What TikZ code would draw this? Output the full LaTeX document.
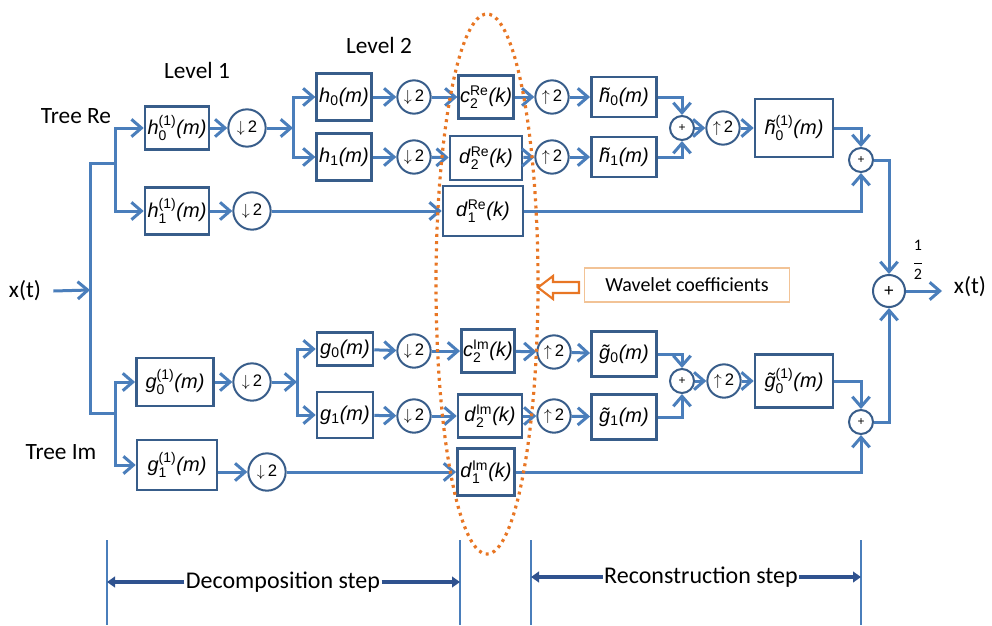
\documentclass[tikz,border=0pt]{standalone}
\usepackage{amsmath}
\usepackage{fontspec}
\setmainfont{Carlito}
\newfontfamily\boxfont{Liberation Sans}
\usepackage{tikz}
\usetikzlibrary{arrows.meta}
\definecolor{lineblue}{RGB}{74,126,187}
\definecolor{edgeblue}{RGB}{56,93,138}
\definecolor{darkblue}{RGB}{47,82,143}
\definecolor{dotorange}{RGB}{232,118,36}
\definecolor{tanedge}{RGB}{242,195,150}
\newcommand{\fs}[3]{\textit{#1}$_{\text{#2}}$\textit{(#3)}}
\newcommand{\fss}[4]{\textit{#1}$^{\text{#3}}_{\text{#2}}$\textit{(#4)}}
\newcommand{\dwn}{$\downarrow$\,2}
\newcommand{\upw}{$\uparrow$\,2}

\begin{document}
\begin{tikzpicture}[x=0.75pt,y=-0.75pt]
                      \tikzstyle{blk}=[draw=edgeblue,line width=1.9pt,fill=white,inner sep=0pt,font=\boxfont\fontsize{15}{17}\selectfont]
                      \tikzstyle{rate}=[circle,draw=edgeblue,line width=1.5pt,fill=white,inner sep=0pt,minimum size=25pt,font=\boxfont\fontsize{12.5}{14}\selectfont]
                      \tikzstyle{adder}=[circle,draw=edgeblue,line width=1.5pt,fill=white,inner sep=0pt,minimum size=18pt,font=\boxfont\fontsize{9}{10}\selectfont]
                      \tikzstyle{conn}=[draw=lineblue,line width=2.25pt,-{Straight Barb[length=7.5pt,width=13pt]}]
                      \tikzstyle{wire}=[draw=lineblue,line width=2.25pt]
                      \tikzstyle{lbl}=[inner sep=0pt,font=\fontsize{17.5}{20}\selectfont]
                      \tikzstyle{sepline}=[draw=lineblue,line width=0.8pt]
                      \tikzstyle{stepline}=[draw=darkblue,line width=3pt,-{Triangle[length=6pt,width=8pt]}]
                      \useasboundingbox (0,0) rectangle (992,625);
                      \node[lbl] (lev1) at (197,70) {Level 1};
                      \node[lbl] (lev2) at (379,45) {Level 2};
                      \node[lbl] (treeRe) at (76,116) {Tree Re};
                      \node[lbl] (treeIm) at (61,452) {Tree Im};
                      \node[lbl] (xin) at (25,291) {x(t)};
                      \node[lbl] (xout) at (970,287) {x(t)};
                      \node[inner sep=0pt,align=center,font=\fontsize{12}{13}\selectfont] (half) at (918,260) {1\\[-3pt]\rule{6pt}{0.5pt}\\[-1pt]2};
                      \coordinate (trunkM) at (90,290);
                      \coordinate (trunkT) at (90,163);
                      \coordinate (trunkB) at (90,413);
                      \coordinate (reB) at (115,163);
                      \coordinate (imB) at (115,413);
                      \coordinate (brRe) at (293,128);
                      \coordinate (brIm) at (297,382);
                      \coordinate (outEnd) at (942,291);
                      \node[blk,minimum width=48pt,minimum height=32pt] (h0a) at (177,128) {\fss{h}{0}{(1)}{m}};
                      \node[blk,minimum width=48pt,minimum height=35pt] (h1a) at (177,211) {\fss{h}{1}{(1)}{m}};
                      \node[rate,minimum size=28pt] (dRa) at (247,128) {\dwn};
                      \node[rate,minimum size=28pt] (dRb) at (252,211) {\dwn};
                      \node[blk,minimum width=41pt,minimum height=35pt] (h0b) at (344,97) {\fs{h}{0}{m}};
                      \node[blk,minimum width=41pt,minimum height=35pt] (h1b) at (344,157) {\fs{h}{1}{m}};
                      \node[rate] (dRc) at (414,97) {\dwn};
                      \node[rate] (dRd) at (414,157) {\dwn};
                      \node[blk,minimum width=41pt,minimum height=32pt] (c2Re) at (486,97) {\fss{c}{2}{Re}{k}};
                      \node[blk,minimum width=54pt,minimum height=33pt] (d2Re) at (486,158) {\fss{d}{2}{Re}{k}};
                      \node[blk,minimum width=60pt,minimum height=37.5pt] (d1Re) at (483,211) {\fss{d}{1}{Re}{k}};
                      \node[rate] (uRa) at (552,97) {\upw};
                      \node[rate] (uRb) at (552,157) {\upw};
                      \node[blk,minimum width=49pt,minimum height=30pt] (ht0) at (624,97) {\fs{\~{h}}{0}{m}};
                      \node[blk,minimum width=49pt,minimum height=30pt] (ht1) at (624,157) {\fs{\~{h}}{1}{m}};
                      \node[adder] (pRa) at (682,128) {+};
                      \node[rate] (uRc) at (723,128) {\upw};
                      \node[blk,minimum width=58.5pt,minimum height=43.5pt] (ht0a) at (794,128) {\fss{\~{h}}{0}{(1)}{m}};
                      \node[adder] (pRb) at (861,160) {+};
                      \node[adder,minimum size=24pt,font=\boxfont\fontsize{13}{14}\selectfont] (pF) at (889,291) {+};
                      \node[blk,minimum width=58pt,minimum height=36pt] (g0a) at (175,382) {\fss{g}{0}{(1)}{m}};
                      \node[blk,minimum width=60pt,minimum height=37.5pt] (g1a) at (177,465) {\fss{g}{1}{(1)}{m}};
                      \node[rate,minimum size=28pt] (dIa) at (252,382) {\dwn};
                      \node[rate,minimum size=28pt] (dIb) at (267,472) {\dwn};
                      \node[blk,minimum width=42pt,minimum height=25pt] (g0b) at (345,349) {\fs{g}{0}{m}};
                      \node[blk,minimum width=42pt,minimum height=34.5pt] (g1b) at (345,415) {\fs{g}{1}{m}};
                      \node[rate] (dIc) at (414,351) {\dwn};
                      \node[rate] (dId) at (414,416) {\dwn};
                      \node[blk,minimum width=40pt,minimum height=32pt] (c2Im) at (488,351) {\fss{c}{2}{Im}{k}};
                      \node[blk,minimum width=48pt,minimum height=32pt] (d2Im) at (490,416) {\fss{d}{2}{Im}{k}};
                      \node[blk,minimum width=43pt,minimum height=35pt] (d1Im) at (486,472) {\fss{d}{1}{Im}{k}};
                      \node[rate] (uIa) at (554,352) {\upw};
                      \node[rate] (uIb) at (554,416) {\upw};
                      \node[blk,minimum width=49pt,minimum height=34pt] (gt0) at (624,354) {\fs{\~{g}}{0}{m}};
                      \node[blk,minimum width=49pt,minimum height=34pt] (gt1) at (624,417) {\fs{\~{g}}{1}{m}};
                      \node[adder] (pIa) at (682,381) {+};
                      \node[rate] (uIc) at (724,381) {\upw};
                      \node[blk,minimum width=58.5pt,minimum height=40pt] (gt0a) at (794,381) {\fss{\~{g}}{0}{(1)}{m}};
                      \node[adder] (pIb) at (861,422) {+};
                      \draw[conn] ([xshift=9pt]xin.east) -- (trunkM);
                      \draw[wire] (reB) -- (trunkT) -- (trunkB) -- (imB);
                      \draw[conn] (reB) |- (h0a);
                      \draw[conn] (reB) |- (h1a);
                      \draw[conn] (imB) |- (g0a);
                      \draw[conn] (imB) |- (g1a);
                      \draw[conn] (h0a) -- (dRa);
                      \draw[conn] (dRa) -- (brRe);
                      \draw[conn] (brRe) |- (h0b);
                      \draw[conn] (brRe) |- (h1b);
                      \draw[conn] (h1a) -- (dRb);
                      \draw[conn] (dRb) -- (d1Re);
                      \draw[conn] (h0b) -- (dRc);
                      \draw[conn] (dRc) -- (c2Re);
                      \draw[conn] (c2Re) -- (uRa);
                      \draw[conn] (uRa) -- (ht0);
                      \draw[conn] (h1b) -- (dRd);
                      \draw[conn] (dRd) -- (d2Re);
                      \draw[conn] (d2Re) -- (uRb);
                      \draw[conn] (uRb) -- (ht1);
                      \draw[conn] (ht0) -| (pRa);
                      \draw[conn] (ht1) -| (pRa);
                      \draw[conn] (pRa) -- (uRc);
                      \draw[conn] (uRc) -- (ht0a);
                      \draw[conn] (ht0a) -| (pRb);
                      \draw[conn] (d1Re) -| (pRb);
                      \draw[conn] (pRb) -| (pF);
                      \draw[conn] (g0a) -- (dIa);
                      \draw[conn] (dIa) -- (brIm);
                      \draw[conn] (brIm) |- (g0b);
                      \draw[conn] (brIm) |- (g1b);
                      \draw[conn] (g1a.east |- dIb) -- (dIb);
                      \draw[conn] (dIb) -- (d1Im);
                      \draw[conn] (g0b) -- (dIc);
                      \draw[conn] (dIc) -- (c2Im);
                      \draw[conn] (c2Im) -- (uIa);
                      \draw[conn] (uIa) -- (gt0);
                      \draw[conn] (g1b) -- (dId);
                      \draw[conn] (dId) -- (d2Im);
                      \draw[conn] (d2Im) -- (uIb);
                      \draw[conn] (uIb) -- (gt1);
                      \draw[conn] (gt0) -| (pIa);
                      \draw[conn] (gt1) -| (pIa);
                      \draw[conn] (pIa) -- (uIc);
                      \draw[conn] (uIc) -- (gt0a);
                      \draw[conn] (gt0a) -| (pIb);
                      \draw[conn] (d1Im) -| (pIb);
                      \draw[conn] (pIb) -| (pF);
                      \draw[conn] (pF) -- (outEnd);
                      \draw[dotorange,line width=2.4pt,dash pattern=on 2.2pt off 3.2pt] (487,284) ellipse [x radius=51,y radius=270];
                      \node[draw=tanedge,line width=1pt,fill=white,minimum width=154pt,minimum height=25.5pt,inner sep=0pt,font=\fontsize{15}{17}\selectfont] (wav) at (687,285) {Wavelet coefficients};
                      \draw[draw=dotorange,line width=1.6pt,fill=white,line join=miter] (579,282) -- (553,282) -- (553,276) -- (538,287.5) -- (553,299) -- (553,293) -- (579,293) -- cycle;
                      \coordinate (sepA) at (107,540);
                      \coordinate (sepB) at (460,540);
                      \coordinate (sepC) at (531,540);
                      \coordinate (sepD) at (861,540);
                      \draw[sepline] (sepA) -- ++(0,85);
                      \draw[sepline] (sepB) -- ++(0,85);
                      \draw[sepline] (sepC) -- ++(0,85);
                      \draw[sepline] (sepD) -- ++(0,85);
                      \node[inner sep=1pt,font=\fontsize{18}{20}\selectfont] (decomp) at (283,582) {Decomposition step};
                      \node[inner sep=1pt,font=\fontsize{18}{20}\selectfont] (recon) at (701,577) {Reconstruction step};
                      \draw[stepline] (decomp.west) -- (decomp.west -| sepA);
                      \draw[stepline] (decomp.east) -- (decomp.east -| sepB);
                      \draw[stepline] (recon.west) -- (recon.west -| sepC);
                      \draw[stepline] (recon.east) -- (recon.east -| sepD);
                  \end{tikzpicture}
\end{document}
